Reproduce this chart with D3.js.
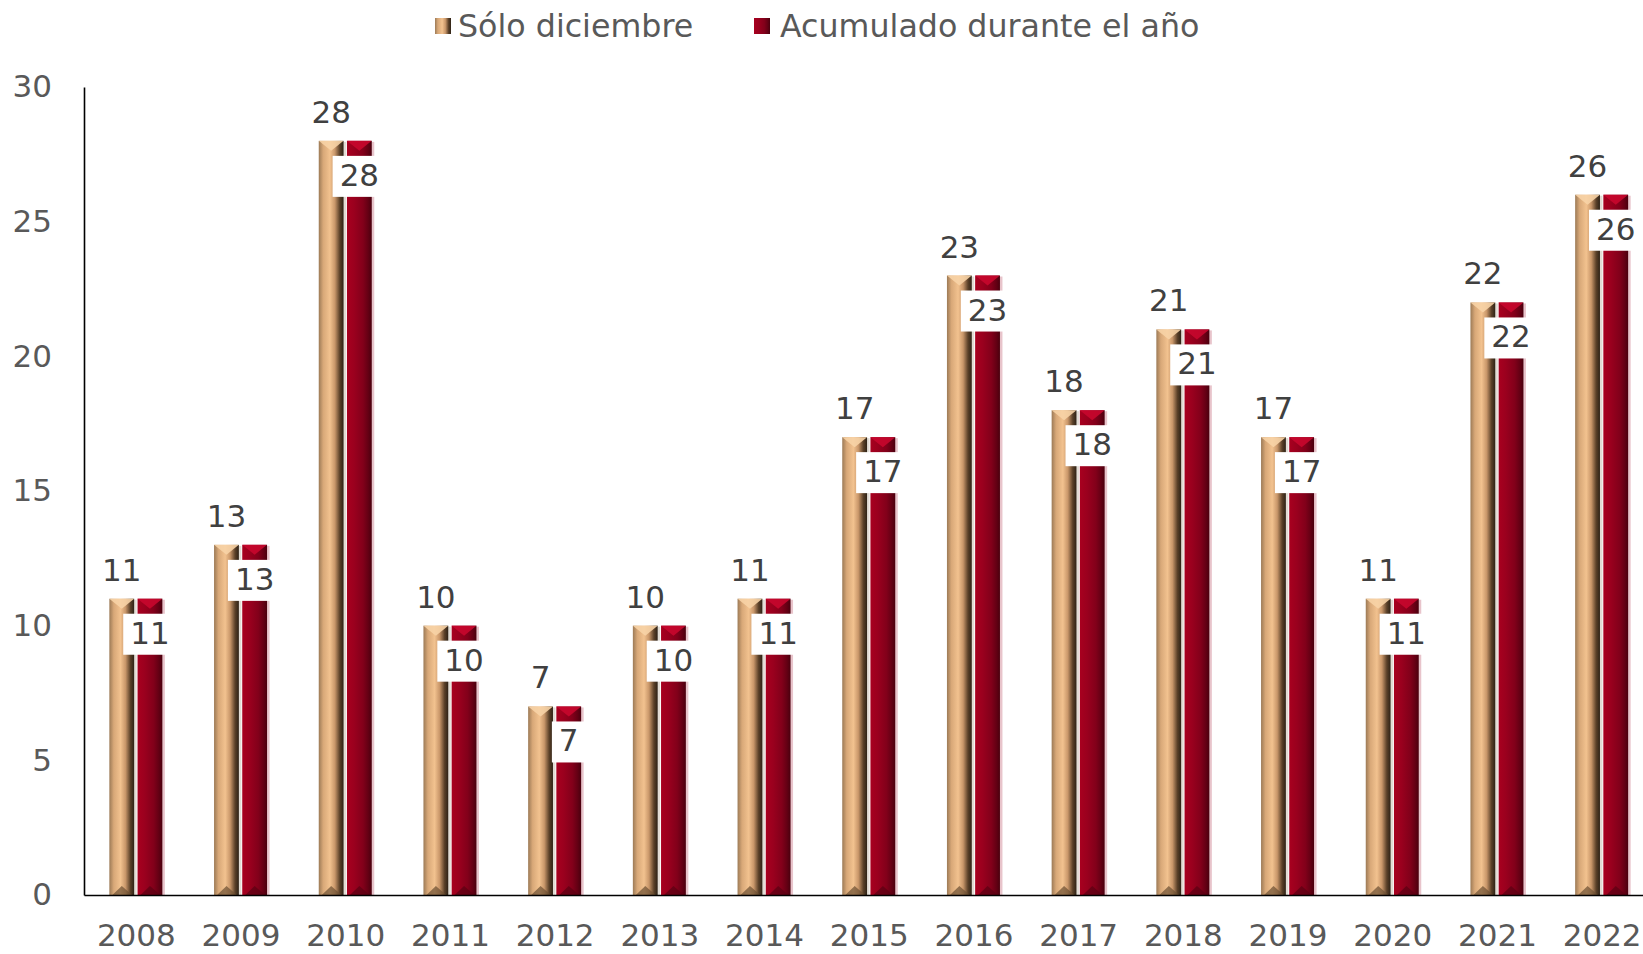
<!DOCTYPE html>
<html>
<head>
<meta charset="utf-8">
<script src="https://cdn.jsdelivr.net/npm/d3@7/dist/d3.min.js"></script>
<style>
  body { margin: 0; background: #fff; }
  svg { display: block; font-family: "DejaVu Sans", Verdana, sans-serif; }
</style>
</head>
<body>
<svg class="chart" width="1643" height="954"></svg>
<script>
var years = ['2008','2009','2010','2011','2012','2013','2014','2015','2016','2017','2018','2019','2020','2021','2022'];
var soloDiciembre = [11, 13, 28, 10, 7, 10, 11, 17, 23, 18, 21, 17, 11, 22, 26];
var acumulado = [11, 13, 28, 10, 7, 10, 11, 17, 23, 18, 21, 17, 11, 22, 26];
var seriesNames = ['Sólo diciembre', 'Acumulado durante el año'];
var yTicks = [0, 5, 10, 15, 20, 25, 30];

var svg = d3.select(".chart");
var fontSize = 31;

// gradients for the bevelled bars
var defs = svg.append("defs");
function grad(id, stops) {
  var g = defs.append("linearGradient").attr("id", id)
    .attr("x1", "0%").attr("x2", "100%").attr("y1", "0%").attr("y2", "0%");
  stops.forEach(function(s) {
    g.append("stop").attr("offset", s[0]).attr("stop-color", s[1]);
  });
}
grad("gTan", [["0%", "#9c7a56"], ["18%", "#d8a878"], ["45%", "#f2c28f"], ["65%", "#c9976a"], ["85%", "#5a4028"], ["100%", "#2e2216"]]);
grad("gRed", [["0%", "#a8001f"], ["30%", "#9a001e"], ["65%", "#82001a"], ["85%", "#650014"], ["100%", "#4a000e"]]);

var fills = ["url(#gTan)", "url(#gRed)"];
var capFill = ["#f7d3a6", "#c8072e"];
var footFill = ["#6b4e32", "#5a0012"];

// scales
var x0 = d3.scaleBand()
    .domain(years)
    .range([84, 84 + years.length * 104.7])
    .padding(0);

var x1 = d3.scaleBand()
    .domain([0, 1])
    .range([-27, 26])
    .paddingInner(0.12);

var y = d3.scaleLinear()
    .domain([0, 30])
    .range([895, 87]);

// axes
var yAxis = d3.axisLeft(y).tickValues(yTicks).tickSize(0).tickSizeOuter(0).tickPadding(32);
var xAxis = d3.axisBottom(x0).tickSize(0).tickSizeOuter(0).tickPadding(29);

var data = years.map(function(yr, i) {
  return { year: yr, values: [soloDiciembre[i], acumulado[i]] };
});

var groups = svg.selectAll("g.year")
    .data(data)
  .enter().append("g")
    .attr("class", "year")
    .attr("transform", function(d) { return "translate(" + (x0(d.year) + x0.bandwidth() / 2) + ",0)"; });

var bars = groups.selectAll("g.bar")
    .data(function(d) { return d.values.map(function(v, s) { return { v: v, s: s }; }); })
  .enter().append("g")
    .attr("class", "bar");

var bw = x1.bandwidth();

// faint halo on the right side of the bars
bars.append("rect")
    .attr("x", function(d) { return x1(d.s) + 1; })
    .attr("y", function(d) { return y(d.v) + 1; })
    .attr("width", bw + 1.5)
    .attr("height", function(d) { return y(0) - y(d.v) - 1; })
    .attr("fill", function(d) { return d.s ? "#e8c4cb" : "#e2dcd4"; });

bars.append("rect")
    .attr("x", function(d) { return x1(d.s); })
    .attr("y", function(d) { return y(d.v); })
    .attr("width", bw)
    .attr("height", function(d) { return y(0) - y(d.v); })
    .attr("fill", function(d) { return fills[d.s]; });

// top bevel
bars.append("path")
    .attr("d", function(d) {
      var l = x1(d.s), t = y(d.v);
      return "M" + l + "," + t + "L" + (l + bw) + "," + t + "L" + (l + bw / 2) + "," + (t + 10) + "Z";
    })
    .attr("fill", function(d) { return capFill[d.s]; })
    .attr("opacity", 0.9);

// bottom bevel
bars.append("path")
    .attr("d", function(d) {
      var l = x1(d.s), b = y(0);
      return "M" + (l + 3) + "," + b + "L" + (l + bw - 2) + "," + b + "L" + (l + bw / 2) + "," + (b - 9) + "Z";
    })
    .attr("fill", function(d) { return footFill[d.s]; })
    .attr("opacity", 0.7);

// labels above the first series
groups.append("text")
    .attr("x", x1(0) + bw / 2)
    .attr("y", function(d) { return y(d.values[0]) - 18; })
    .attr("text-anchor", "middle")
    .attr("font-size", fontSize)
    .attr("fill", "#404040")
    .text(function(d) { return d.values[0]; });

// boxed labels for second series
var boxLabel = groups.append("g").attr("class", "boxlabel");
boxLabel.append("rect").attr("fill", "#fff");
boxLabel.append("text")
    .attr("x", x1(1) + bw / 2)
    .attr("y", function(d) { return y(d.values[1]) + 45; })
    .attr("text-anchor", "middle")
    .attr("font-size", fontSize)
    .attr("fill", "#404040")
    .text(function(d) { return d.values[1]; });
boxLabel.each(function(d) {
  var g = d3.select(this);
  var w = g.select("text").node().getComputedTextLength();
  g.select("rect")
    .attr("x", x1(1) + bw / 2 - w / 2 - 7)
    .attr("y", y(d.values[1]) + 15)
    .attr("width", w + 14)
    .attr("height", 41);
});

var gy = svg.append("g").attr("class", "y axis")
    .attr("transform", "translate(84,0)")
    .call(yAxis);
var gx = svg.append("g").attr("class", "x axis")
    .attr("transform", "translate(0," + y(0) + ")")
    .call(xAxis);

svg.selectAll(".axis text")
    .attr("font-size", fontSize)
    .attr("font-family", "DejaVu Sans, Verdana, sans-serif")
    .attr("fill", "#595959");
svg.selectAll(".axis .domain")
    .attr("stroke", "#000")
    .attr("stroke-width", 1.6);

// legend
var legendX = [435, 754];
var legend = svg.selectAll("g.legend")
    .data(seriesNames)
  .enter().append("g")
    .attr("class", "legend")
    .attr("transform", function(d, i) { return "translate(" + legendX[i] + ",0)"; });
legend.append("rect")
    .attr("x", 0).attr("y", 18)
    .attr("width", 16).attr("height", 16)
    .attr("fill", function(d, i) { return fills[i]; });
legend.append("text")
    .attr("x", function(d, i) { return i === 0 ? 23 : 26; })
    .attr("y", 37)
    .attr("font-size", 31.7)
    .attr("fill", "#595959")
    .text(function(d) { return d; });
</script>
</body>
</html>
